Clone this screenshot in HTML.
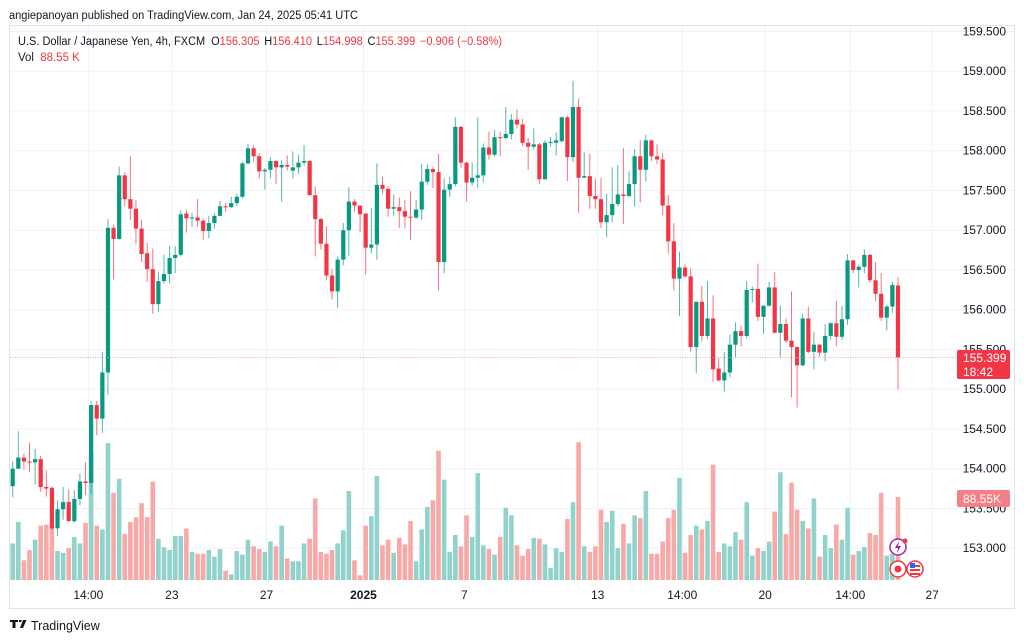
<!DOCTYPE html>
<html><head><meta charset="utf-8"><style>
body{margin:0;background:#fff;}
svg{display:block;font-family:"Liberation Sans",sans-serif;}
</style></head><body>
<svg id="chart" width="1024" height="641" viewBox="0 0 1024 641">
<rect x="0" y="0" width="1024" height="641" fill="#fff"/>
<text x="9" y="19" font-size="11.5" textLength="349" lengthAdjust="spacingAndGlyphs" fill="#131722">angiepanoyan published on TradingView.com, Jan 24, 2025 05:41 UTC</text>
<rect x="9.5" y="25.5" width="1005" height="583" fill="none" stroke="#e0e3eb"/>
<g id="grid"></g>
<g id="vol"></g>
<g id="candles"></g>
<line x1="10" x2="957" y1="357.5" y2="357.5" stroke="#f7a0a6" stroke-width="1" stroke-dasharray="1,1.5"/>
<g id="yaxis"></g>
<g id="xaxis"></g>
<text x="18" y="45" font-size="11.5" textLength="484" lengthAdjust="spacingAndGlyphs" fill="#131722">U.S. Dollar / Japanese Yen, 4h, FXCM <tspan dx="3">O</tspan><tspan fill="#f23645">156.305</tspan><tspan dx="5">H</tspan><tspan fill="#f23645">156.410</tspan><tspan dx="5">L</tspan><tspan fill="#f23645">154.998</tspan><tspan dx="5">C</tspan><tspan fill="#f23645">155.399</tspan><tspan dx="5" fill="#f23645">−0.906 (−0.58%)</tspan></text>
<text x="18" y="61" font-size="11.5" fill="#131722">Vol <tspan dx="3" fill="#f23645">88.55 K</tspan></text>
<g>
<rect x="957" y="350" width="53" height="29" rx="2" fill="#f23645"/>
<text x="963" y="362" font-size="12" fill="#fff">155.399</text>
<text x="963" y="376" font-size="12" fill="#fff">18:42</text>
</g>
<g>
<rect x="957" y="490" width="53" height="17" rx="2" fill="#f57f87"/>
<text x="963" y="503" font-size="12" fill="#fff">88.55K</text>
</g>
<g>
<circle cx="898" cy="547" r="8" fill="#fff" stroke="#9c27b0" stroke-width="1.5"/>
<path d="M899 541 L895 548 L898 548 L897 553 L901 546 L898 546 Z" fill="#9c27b0"/>
<circle cx="905" cy="541" r="2.5" fill="#f23645"/>
<circle cx="898" cy="569" r="8" fill="#fff" stroke="#f23645" stroke-width="1.5"/>
<circle cx="898" cy="569" r="3.5" fill="#f23645"/>
<circle cx="915" cy="569" r="8" fill="#fff" stroke="#f23645" stroke-width="1.5"/>
<rect x="910" y="565" width="10" height="2" fill="#f23645"/><rect x="910" y="569" width="10" height="2" fill="#f23645"/><rect x="910" y="573" width="10" height="2" fill="#f23645"/><rect x="910" y="563" width="5" height="5" fill="#2962ff"/>
</g>
<g>
<path d="M10 620 h8 v2 h-2.5 v6 h-3 v-6 h-2.5z M19 620 h2.5 v2 h-2.5z M23 620 h3.5 l-3.5 8 h-3z" fill="#131722"/>
<text x="31" y="630" font-size="12.5" fill="#131722">TradingView</text>
</g>
</svg>
<script>
const opens=[153.78,154.00,154.14,154.09,154.08,154.12,153.77,153.76,153.25,153.49,153.58,153.34,153.62,153.84,153.82,154.80,154.63,155.21,157.03,156.89,157.69,157.39,157.27,157.02,156.71,156.51,156.07,156.36,156.45,156.65,156.69,157.21,157.15,157.16,157.12,156.99,157.09,157.18,157.30,157.29,157.34,157.42,157.84,158.03,157.93,157.74,157.76,157.87,157.79,157.82,157.75,157.79,157.85,157.87,157.44,157.14,156.83,156.43,156.23,156.63,157.00,157.36,157.31,157.21,156.78,156.82,157.57,157.52,157.27,157.29,157.24,157.17,157.16,157.26,157.61,157.77,157.73,156.60,157.51,157.58,158.30,157.85,157.60,157.66,157.69,158.04,157.95,158.17,158.16,158.21,158.39,158.33,158.10,158.05,158.08,157.64,158.10,158.10,158.12,158.42,157.92,158.55,157.66,157.68,157.43,157.39,157.10,157.19,157.33,157.45,157.43,157.58,157.93,157.76,158.13,157.93,157.89,157.31,156.86,156.39,156.53,156.42,155.53,156.10,155.67,155.89,155.26,155.11,155.21,155.56,155.73,155.67,156.25,156.26,155.91,156.05,156.28,155.71,155.82,155.61,155.53,155.30,155.89,155.47,155.56,155.46,155.67,155.83,155.66,155.88,156.62,156.50,156.54,156.69,156.37,156.20,155.90,156.04,156.305];
const highs=[154.09,154.47,154.19,154.33,154.25,154.16,153.98,153.77,153.60,153.77,153.74,153.73,153.94,154.08,154.85,154.85,155.47,157.14,157.07,157.80,157.73,157.93,157.38,157.13,156.84,156.77,156.47,156.69,156.80,156.80,157.25,157.26,157.22,157.39,157.15,157.18,157.21,157.37,157.34,157.42,157.46,157.86,158.09,158.07,157.97,157.78,157.92,157.88,157.88,157.94,157.99,157.95,158.07,157.88,157.55,157.15,157.05,156.51,156.67,157.09,157.54,157.39,157.31,157.21,157.28,157.84,157.67,157.55,157.45,157.41,157.38,157.49,157.38,157.83,157.83,157.79,157.96,157.65,157.67,158.42,158.31,157.86,157.85,158.42,158.09,158.24,158.26,158.24,158.55,158.46,158.52,158.40,158.16,158.28,158.10,158.13,158.17,158.23,158.43,158.44,158.88,158.66,157.98,157.96,157.65,157.66,157.46,157.79,157.82,158.03,157.74,158.02,158.13,158.20,158.14,158.08,157.97,157.44,157.09,156.73,156.57,156.52,156.10,156.30,156.36,156.18,155.39,155.47,155.69,155.84,155.80,156.36,156.29,156.58,156.05,156.35,156.47,156.05,155.89,156.23,155.54,155.95,156.04,155.72,155.57,155.82,155.84,156.11,156.05,156.70,156.63,156.56,156.76,156.70,156.60,156.46,156.06,156.35,156.410];
const lows=[153.64,154.00,153.99,153.96,153.80,153.71,153.65,153.23,153.15,153.36,153.34,153.32,153.54,153.67,153.68,154.42,154.45,154.93,156.38,156.88,157.30,157.13,156.82,156.60,156.35,155.95,155.97,156.33,156.33,156.46,156.67,156.97,157.04,157.04,156.88,156.90,157.02,157.18,157.23,157.28,157.30,157.40,157.83,157.86,157.65,157.51,157.65,157.58,157.36,157.75,157.65,157.71,157.81,157.44,156.67,156.76,156.37,156.13,156.02,156.56,156.68,157.23,156.98,156.44,156.71,156.63,157.46,157.17,157.18,157.03,157.02,156.88,157.14,157.13,157.57,157.53,156.24,156.46,157.42,157.55,157.78,157.36,157.56,157.53,157.60,157.89,157.93,157.93,158.14,158.14,158.28,158.06,157.76,158.01,157.58,157.64,158.05,157.94,158.10,157.62,157.86,157.22,157.66,157.27,157.27,157.03,156.91,157.10,157.30,157.08,157.41,157.30,157.35,157.61,157.87,157.83,157.19,156.71,156.24,155.92,156.40,155.47,155.20,155.60,155.63,155.09,155.10,154.97,155.15,155.40,155.54,155.64,156.09,155.86,155.70,156.04,155.70,155.40,155.58,154.90,154.77,155.29,155.45,155.25,155.41,155.35,155.62,155.54,155.62,155.81,156.46,156.28,156.46,156.34,156.10,155.86,155.74,155.96,154.998];
const closes=[154.00,154.14,154.09,154.08,154.12,153.77,153.75,153.25,153.49,153.58,153.34,153.62,153.84,153.82,154.80,154.63,155.21,157.03,156.89,157.69,157.39,157.27,157.02,156.70,156.51,156.07,156.36,156.45,156.65,156.69,157.20,157.15,157.16,157.12,156.99,157.09,157.18,157.30,157.29,157.34,157.42,157.84,158.03,157.93,157.74,157.76,157.87,157.79,157.82,157.80,157.79,157.85,157.87,157.44,157.14,156.83,156.43,156.23,156.63,157.00,157.36,157.31,157.20,156.78,156.82,157.57,157.52,157.27,157.29,157.24,157.17,157.16,157.26,157.61,157.77,157.73,156.60,157.51,157.58,158.30,157.85,157.60,157.66,157.69,158.04,157.95,158.17,158.16,158.21,158.39,158.33,158.10,158.05,158.08,157.64,158.10,158.11,158.13,158.42,157.92,158.55,157.66,157.68,157.43,157.39,157.10,157.19,157.33,157.45,157.43,157.58,157.93,157.76,158.13,157.93,157.89,157.31,156.86,156.39,156.53,156.42,155.53,156.10,155.67,155.89,155.25,155.11,155.21,155.56,155.73,155.67,156.25,156.26,155.91,156.05,156.28,155.71,155.82,155.61,155.53,155.30,155.89,155.47,155.56,155.46,155.67,155.83,155.66,155.88,156.62,156.50,156.54,156.69,156.37,156.20,155.90,156.04,156.31,155.399];
const volumes=[39,62,21,32,43,58,59,59,31,29,34,46,39,61,137,58,54,146,93,108,49,62,67,82,67,105,44,35,32,47,47,55,30,28,28,32,25,33,10,6,31,27,43,36,33,30,41,36,58,23,20,20,39,44,87,30,28,32,39,53,95,21,5,58,68,111,37,43,29,45,38,63,20,54,78,85,138,107,30,48,36,69,46,114,37,33,27,46,77,69,37,26,33,45,44,38,13,34,30,65,83,147,36,30,36,75,62,74,34,60,39,69,66,95,28,28,41,66,75,109,29,48,58,54,63,123,30,39,36,51,43,83,26,34,31,41,73,115,49,104,75,63,55,87,25,48,34,59,43,77,27,31,35,50,48,93,26,28,88.55];
const priceTicks=[159.5,159.0,158.5,158.0,157.5,157.0,156.5,156.0,155.5,155.0,154.5,154.0,153.5,153.0];
const timeLabels=["14:00","23","27","2025","7","13","14:00","20","14:00","27"];
const timeLabelBars=[13.5,28.4,45.3,62.6,80.6,104.4,119.5,134.3,149.5,164.1];

const NS="http://www.w3.org/2000/svg";
function xOf(i){return 12.7+i*5.603;}
function yOf(p){return 150.7+(158-p)*79.5;}
function vY(v){return 580-v/1.067;}
function mk(tag,attrs,parent){const e=document.createElementNS(NS,tag);for(const k in attrs)e.setAttribute(k,attrs[k]);parent.appendChild(e);return e;}

const grid=document.getElementById('grid'),yax=document.getElementById('yaxis'),xax=document.getElementById('xaxis');
priceTicks.forEach(p=>{
  const y=yOf(p);
  const l=mk('line',{x1:10,x2:1014,y1:y,y2:y,stroke:'#eef1f7','stroke-width':1},grid);
  
  
  const t=mk('text',{x:1006,y:y+4,'font-size':12,fill:'#131722','text-anchor':'end'},yax);
  t.textContent=p.toFixed(3);
  
  
});
timeLabels.forEach((s,k)=>{
  const x=xOf(timeLabelBars[k]);
  const l=mk('line',{x1:x,x2:x,y1:26,y2:582,stroke:'#eef1f7','stroke-width':1},grid);
  
  
  const t=mk('text',{x:x,y:599,'font-size':12,fill:'#131722','text-anchor':'middle','font-weight':s==='2025'?'bold':'normal'},xax);
  t.textContent=s;
  
  
});
const vg=document.getElementById('vol'),cg=document.getElementById('candles');
for(let i=0;i<closes.length;i++){
  const up=closes[i]>=opens[i];
  const x=xOf(i);
  const vb=mk('rect',{x:x-2.3,y:vY(volumes[i]),width:4.6,height:580-vY(volumes[i]),fill:up?'#92d2cc':'#f7a9a7'},vg);
  
  
  const col=up?'#089981':'#f23645';
  const w=mk('line',{x1:x,x2:x,y1:yOf(highs[i]),y2:yOf(lows[i]),stroke:col,'stroke-width':1,'stroke-opacity':0.7},cg);
  
  
  const yt=yOf(Math.max(opens[i],closes[i])),yb=yOf(Math.min(opens[i],closes[i]));
  const b=mk('rect',{x:x-2.1,y:yt,width:4.2,height:Math.max(1,yb-yt),fill:col},cg);
  
  
}
</script>
</body></html>
